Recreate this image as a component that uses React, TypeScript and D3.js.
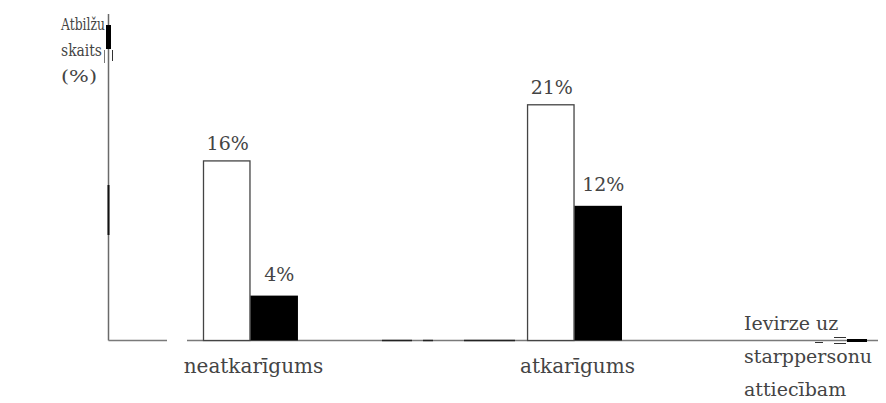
import React from "react";
import * as d3 from "d3";

// Response shares by type of interpersonal orientation
const categories = ["neatkarīgums", "atkarīgums"];
const seriesKeys = ["a", "b"];
const seriesA = [16, 21];
const seriesB = [4, 12];
const yAxisLabel = ["Atbilžu", "skaits", "(%)"];
const xAxisLabel = ["Ievirze uz", "starppersonu", "attiecībam"];

const W = 886;
const H = 403;
const FONT = "DejaVu Serif";
const INK = "#444";

export default function App() {
  const baseY = 340.5;
  const axisX = 108.5;

  const y = d3.scaleLinear().domain([0, 29]).range([baseY, 15]);
  const x = d3
    .scaleBand<string>()
    .domain(categories)
    .range([203, 622])
    .paddingInner(0.707)
    .paddingOuter(0);
  const inner = d3
    .scaleBand<string>()
    .domain(seriesKeys)
    .range([0, x.bandwidth()])
    .padding(0);

  const rows = categories.map((c, i) => ({
    cat: c,
    values: [seriesA[i], seriesB[i]],
  }));

  return (
    <div style={{ position: "absolute", left: 0, top: 0 }}>
      <svg width={W} height={H} style={{ display: "block", background: "#fff" }}>
        {/* axes */}
        <line x1={axisX} x2={axisX} y1={14} y2={baseY} stroke="#6a6a6a" strokeWidth={1.5} />
        <line x1={axisX} x2={167} y1={baseY} y2={baseY} stroke="#7a7a7a" strokeWidth={1.5} />
        <line x1={187} x2={878} y1={baseY} y2={baseY} stroke="#7a7a7a" strokeWidth={1.5} />
        {/* y-axis arrow remnants */}
        <rect x={106} y={25} width={5} height={24} fill="#000" />
        <line x1={104.5} x2={104.5} y1={50} y2={63} stroke="#777" strokeWidth={1} />
        <line x1={112.5} x2={112.5} y1={50} y2={61} stroke="#333" strokeWidth={1} />
        <line x1={axisX} x2={axisX} y1={185} y2={235} stroke="#111" strokeWidth={2} />
        {/* x-axis arrow remnants */}
        <line x1={847} x2={867} y1={baseY} y2={baseY} stroke="#000" strokeWidth={3} />
        <line x1={834} x2={846} y1={337.5} y2={337.5} stroke="#333" strokeWidth={1} />
        <line x1={834} x2={846} y1={343.5} y2={343.5} stroke="#333" strokeWidth={1} />
        <line x1={815} x2={823} y1={342.5} y2={342.5} stroke="#333" strokeWidth={1} />
        <line x1={382} x2={412} y1={baseY} y2={baseY} stroke="#222" strokeWidth={1.5} />
        <line x1={423} x2={433} y1={baseY} y2={baseY} stroke="#222" strokeWidth={1.5} />
        <line x1={464} x2={515} y1={baseY} y2={baseY} stroke="#222" strokeWidth={1.5} />

        {/* bars */}
        {rows.map((r) => {
          const gx = x(r.cat)!;
          return (
            <g key={r.cat} transform={`translate(${gx},0)`}>
              {r.values.map((v, j) => {
                const key = seriesKeys[j];
                const bx = inner(key)!;
                const bw = inner.bandwidth();
                const top = y(v);
                return (
                  <g key={key}>
                    <rect
                      x={bx + (j === 0 ? 0.5 : 0)}
                      y={top}
                      width={bw - (j === 0 ? 1 : 0)}
                      height={baseY - top}
                      fill={j === 0 ? "#fff" : "#000"}
                      stroke={j === 0 ? "#444" : "none"}
                      strokeWidth={1.3}
                    />
                    <text
                      x={bx + bw / 2 + (j === 0 ? 1 : 5)}
                      y={top - (j === 0 ? 11 : 15)}
                      textAnchor="middle"
                      fontFamily={FONT}
                      fontSize={19}
                      fill={INK}
                    >
                      {`${v}%`}
                    </text>
                  </g>
                );
              })}
              <text
                x={x.bandwidth() / 2 + 3}
                y={373}
                textAnchor="middle"
                fontFamily={FONT}
                fontSize={20}
                fill={INK}
              >
                {r.cat}
              </text>
            </g>
          );
        })}

        {/* axis titles */}
        {yAxisLabel.map((t, i) => (
          <text
            key={t}
            x={61}
            y={30 + i * 26}
            fontFamily={FONT}
            fontSize={17}
            fill={INK}
            textLength={[44, 41, 36][i]}
            lengthAdjust="spacingAndGlyphs"
          >
            {t}
          </text>
        ))}
        {xAxisLabel.map((t, i) => (
          <text
            key={t}
            x={744}
            y={330 + i * 33}
            fontFamily={FONT}
            fontSize={19}
            fill={INK}
          >
            {t}
          </text>
        ))}
      </svg>
    </div>
  );
}
